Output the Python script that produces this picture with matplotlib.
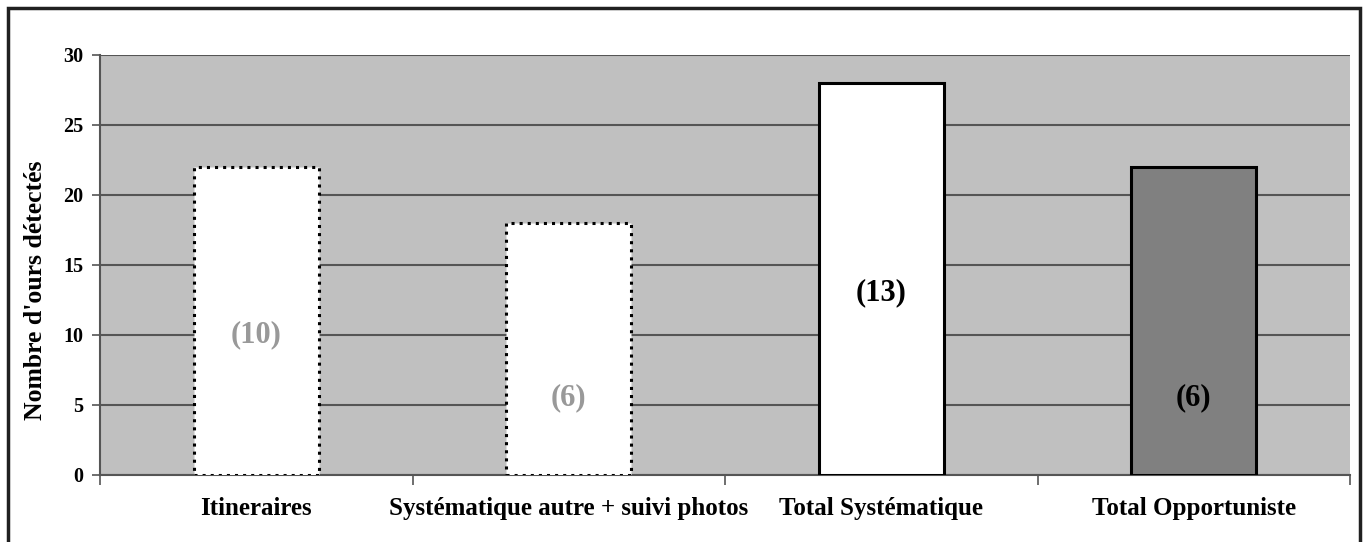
import matplotlib
matplotlib.use("Agg")
import matplotlib.pyplot as plt
from matplotlib.patches import Rectangle

categories = ["Itineraires", "Systématique autre + suivi photos", "Total Systématique", "Total Opportuniste"]
values = [22, 18, 28, 22]
counts = ["(10)", "(6)", "(13)", "(6)"]
count_pos = [10, 5.5, 13, 5.5]
yticks = [0, 5, 10, 15, 20, 25, 30]

face_colors = ["white", "white", "white", "#808080"]
edge_styles = [":", ":", "-", "-"]
label_colors = ["#999999", "#999999", "black", "black"]

plt.rcParams['font.family'] = ['Liberation Serif', 'DejaVu Serif']
fig = plt.figure(figsize=(13.68, 5.42), dpi=100)
ax = fig.add_axes([100/1368, 1-475/542, 1250/1368, 420/542])
ax.set_facecolor("#C0C0C0")

x = list(range(len(categories)))
for i in x:
    ax.bar(i, values[i], width=0.4, color=face_colors[i], edgecolor="black",
           linewidth=2.2, linestyle=edge_styles[i], zorder=3)
    ax.text(i, count_pos[i], counts[i], ha="center", va="center", fontsize=22,
            fontweight="bold", color=label_colors[i], zorder=4)

ax.set_xlim(-0.5, len(categories) - 0.5)
ax.set_ylim(0, 30)
ax.set_yticks(yticks)
ax.set_yticklabels([str(t) for t in yticks], fontsize=14.5, fontweight="bold")
ax.yaxis.grid(True, color="#555555", linewidth=1.5, zorder=1)
ax.set_axisbelow(True)

ax.set_xticks([i + 0.5 for i in range(-1, len(categories))])
ax.set_xticklabels([])
ax.set_xticks(x, minor=True)
ax.set_xticklabels(categories, minor=True, fontsize=18, fontweight="bold")
ax.tick_params(axis="x", which="minor", length=0, pad=16)
ax.tick_params(axis="x", which="major", length=7, width=1.2, color="#555555")
ax.tick_params(axis="y", length=6, width=1.2, color="#555555", pad=6)

for s in ["top", "right"]:
    ax.spines[s].set_visible(False)
for s in ["left", "bottom"]:
    ax.spines[s].set_color("#555555")
    ax.spines[s].set_linewidth(1.5)

ax.set_ylabel("Nombre d'ours détectés", fontsize=18.5, fontweight="bold")
ax.yaxis.set_label_coords(-0.0425, 0.44)

border = Rectangle((8/1368, -0.05), 1352/1368, 1.05 - 8/542, transform=fig.transFigure,
                   fill=False, edgecolor="#202020", linewidth=2.5)
fig.patches.append(border)

fig.savefig("out.png", dpi=100)
